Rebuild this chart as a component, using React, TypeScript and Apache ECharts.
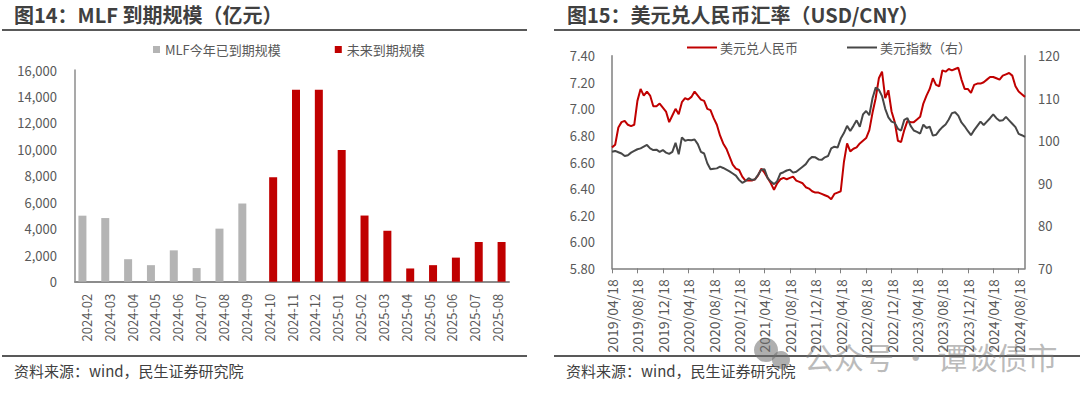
import React, { useEffect, useRef } from "react";
import * as echarts from "echarts";

// ---------- Chart 14: MLF maturities (亿元) ----------
const mlfMonths = [
  "2024-02", "2024-03", "2024-04", "2024-05", "2024-06", "2024-07", "2024-08", "2024-09",
  "2024-10", "2024-11", "2024-12", "2025-01", "2025-02", "2025-03", "2025-04", "2025-05",
  "2025-06", "2025-07", "2025-08",
];
const mlfMatured = [4990, 4810, 1700, 1250, 2370, 1030, 4010, 5910, null, null, null, null, null, null, null, null, null, null, null];
const mlfUpcoming = [null, null, null, null, null, null, null, null, 7890, 14500, 14500, 9950, 5000, 3850, 1000, 1250, 1820, 3000, 3000];
const mlfTicks = [0, 2000, 4000, 6000, 8000, 10000, 12000, 14000, 16000];

// ---------- Chart 15: USD/CNY and dollar index (semi-monthly samples) ----------
const fxStartYear = 2019;
const fxStartMonth = 4;
const usdCny = [
  6.71, 6.73, 6.86, 6.90, 6.91, 6.88, 6.87, 6.88, 7.06, 7.15,
  7.10, 7.13, 7.10, 7.02, 7.02, 7.04, 7.01, 6.98, 6.90, 6.95,
  7.00, 6.96, 7.05, 7.08, 7.07, 7.09, 7.13, 7.10, 7.07, 7.06,
  7.00, 6.99, 6.93, 6.88, 6.80, 6.74, 6.70, 6.64, 6.58, 6.55,
  6.54, 6.49, 6.46, 6.46, 6.46, 6.47, 6.50, 6.55, 6.52, 6.48,
  6.44, 6.39, 6.44, 6.47, 6.48, 6.47, 6.48, 6.49, 6.46, 6.45,
  6.44, 6.41, 6.40, 6.38, 6.37, 6.37, 6.36, 6.35, 6.34, 6.32,
  6.36, 6.37, 6.38, 6.60, 6.74, 6.68, 6.70, 6.71, 6.74, 6.76,
  6.78, 6.84, 6.97, 7.08, 7.23, 7.28, 7.08, 7.14, 6.98, 6.90,
  6.76, 6.75, 6.84, 6.91, 6.90, 6.90, 6.92, 6.94, 7.04, 7.10,
  7.15, 7.23, 7.18, 7.17, 7.29, 7.28, 7.30, 7.29, 7.30, 7.31,
  7.22, 7.15, 7.15, 7.12, 7.18, 7.19, 7.19, 7.20, 7.22, 7.24,
  7.24, 7.23, 7.22, 7.25, 7.26, 7.27, 7.25, 7.17, 7.13, 7.11,
  7.09,
];
const dollarIndex = [
  97.4, 97.6, 97.3, 97.0, 96.4, 96.6, 97.2, 97.6, 98.0, 98.2,
  98.6, 99.0, 98.2, 97.8, 97.9, 97.4, 97.8, 97.2, 96.9, 97.4,
  99.5, 96.8, 100.8, 100.0, 100.2, 100.1, 100.3, 99.2, 97.4, 97.0,
  94.7, 93.3, 93.4, 93.5, 93.9, 93.6, 93.2, 92.8, 92.3, 91.8,
  90.8, 90.1, 90.5, 91.2, 90.8, 90.9, 92.0, 93.2, 93.3, 91.2,
  90.4, 89.8, 90.5, 92.3, 92.6, 93.0, 93.2, 92.5, 92.7, 93.3,
  93.9, 94.5, 95.6, 96.2, 96.1, 95.6, 95.5, 96.1, 96.4, 98.2,
  98.6, 98.4, 100.5, 101.8, 103.5, 102.3, 103.5, 104.8, 103.3, 106.2,
  107.0, 106.0, 110.0, 112.5, 112.0, 110.5, 107.5, 105.5, 104.5, 104.2,
  102.8, 102.4, 104.9, 105.3, 103.5, 102.4, 102.1, 101.7, 103.8, 103.0,
  103.3, 101.2, 101.4, 102.4, 103.2, 103.8, 105.0, 106.5, 106.7, 105.9,
  104.3, 103.4, 102.3, 101.3, 102.5, 103.5, 104.5, 103.7, 104.5, 105.3,
  106.2, 105.3, 104.7, 104.8, 105.6, 104.8, 104.0, 103.2, 101.6, 101.3,
  100.9,
];

const pad2 = (n: number) => (n < 10 ? "0" + n : "" + n);
const fxDates: string[] = usdCny.map((_, k) => {
  const off = k % 2 === 0 ? k / 2 : (k + 1) / 2;
  const total = fxStartMonth - 1 + off;
  const y = fxStartYear + Math.floor(total / 12);
  const m = (total % 12) + 1;
  return `${y}/${pad2(m)}/${k % 2 === 0 ? "18" : "03"}`;
});

const FONT = '"Noto Sans CJK SC", "Noto Sans", sans-serif';
const LABEL = "#595959";

export default function App() {
  const ref = useRef<HTMLDivElement>(null);
  useEffect(() => {
    if (!ref.current) return;
    const chart = echarts.init(ref.current, undefined, { renderer: "svg" });
    const showEvery8 = (i: number) => i % 8 === 0;
    chart.setOption({
      animation: false,
      backgroundColor: "#ffffff",
      textStyle: { fontFamily: FONT },
      grid: [
        { left: 75, top: 70, width: 434, height: 211.7 },
        { left: 612, top: 55.7, width: 413, height: 212.6 },
      ],
      legend: [
        {
          left: 148, top: 38, itemWidth: 7, itemHeight: 7, itemGap: 54, icon: "rect",
          textStyle: { color: LABEL, fontSize: 13, fontFamily: FONT },
          data: ["MLF今年已到期规模", "未来到期规模"],
        },
        {
          left: 682, top: 36, itemWidth: 30, itemHeight: 2, itemGap: 49, icon: "rect",
          textStyle: { color: LABEL, fontSize: 13, fontFamily: FONT, padding: [0, 0, 0, -2] },
          data: ["美元兑人民币", "美元指数（右）"],
        },
      ],
      xAxis: [
        {
          type: "category", gridIndex: 0, data: mlfMonths,
          axisLine: { lineStyle: { color: "#8c8c8c", width: 2 } },
          axisTick: { show: false },
          axisLabel: { rotate: 90, interval: 0, margin: 12, color: LABEL, fontSize: 13, fontFamily: FONT },
        },
        {
          type: "category", gridIndex: 1, data: fxDates, boundaryGap: false,
          axisLine: { lineStyle: { color: "#7f7f7f", width: 1.5 } },
          axisTick: { show: true, interval: showEvery8, length: 5, lineStyle: { color: "#7f7f7f" } },
          axisLabel: { rotate: 90, interval: showEvery8, margin: 11, color: LABEL, fontSize: 14, fontFamily: FONT },
        },
      ],
      yAxis: [
        {
          type: "value", gridIndex: 0, min: mlfTicks[0], max: mlfTicks[mlfTicks.length - 1], interval: 2000,
          axisLine: { show: true, lineStyle: { color: "#8c8c8c", width: 1.5 } },
          axisTick: { show: false }, splitLine: { show: false },
          axisLabel: {
            margin: 18, color: LABEL, fontSize: 13, fontFamily: FONT,
            formatter: (v: number) => v.toLocaleString("en-US"),
          },
        },
        {
          type: "value", gridIndex: 1, position: "left", min: 5.8, max: 7.4, interval: 0.2,
          axisLine: { show: true, lineStyle: { color: "#7f7f7f", width: 1.5 } },
          axisTick: { show: false }, splitLine: { show: false },
          axisLabel: { margin: 17, color: LABEL, fontSize: 13, fontFamily: FONT, formatter: (v: number) => v.toFixed(2) },
        },
        {
          type: "value", gridIndex: 1, position: "right", min: 70, max: 120, interval: 10,
          axisLine: { show: true, lineStyle: { color: "#7f7f7f", width: 1.5 } },
          axisTick: { show: false }, splitLine: { show: false },
          axisLabel: { margin: 13, color: LABEL, fontSize: 13, fontFamily: FONT },
        },
      ],
      series: [
        {
          name: "MLF今年已到期规模", type: "bar", xAxisIndex: 0, yAxisIndex: 0,
          data: mlfMatured, barWidth: 8, barGap: "0%", itemStyle: { color: "#B4B4B4" },
        },
        {
          name: "未来到期规模", type: "bar", xAxisIndex: 0, yAxisIndex: 0,
          data: mlfUpcoming, barWidth: 8, barGap: "0%", itemStyle: { color: "#C00000" },
        },
        {
          name: "美元兑人民币", type: "line", xAxisIndex: 1, yAxisIndex: 1, data: usdCny,
          showSymbol: false, symbol: "none", lineStyle: { color: "#C00000", width: 2 }, itemStyle: { color: "#C00000" },
        },
        {
          name: "美元指数（右）", type: "line", xAxisIndex: 1, yAxisIndex: 2, data: dollarIndex,
          showSymbol: false, symbol: "none", lineStyle: { color: "#474747", width: 2 }, itemStyle: { color: "#474747" },
        },
      ],
      graphic: [
        { type: "text", left: 14, top: 4, style: { text: "图14：MLF 到期规模（亿元）", fill: "#404040", font: `bold 20px ${FONT}` } },
        { type: "line", shape: { x1: 2, y1: 30, x2: 527, y2: 30 }, style: { stroke: "#595959", lineWidth: 2 } },
        { type: "line", shape: { x1: 2, y1: 356, x2: 527, y2: 356 }, style: { stroke: "#595959", lineWidth: 2 } },
        { type: "text", left: 14, top: 363, style: { text: "资料来源：wind，民生证券研究院", fill: "#404040", font: `15px ${FONT}` } },
        { type: "text", left: 567, top: 4, style: { text: "图15：美元兑人民币汇率（USD/CNY）", fill: "#404040", font: `bold 20px ${FONT}` } },
        { type: "line", shape: { x1: 554, y1: 30, x2: 1080, y2: 30 }, style: { stroke: "#595959", lineWidth: 2 } },
        { type: "line", shape: { x1: 554, y1: 356, x2: 1080, y2: 356 }, style: { stroke: "#595959", lineWidth: 2 } },
        { type: "text", left: 566, top: 363, style: { text: "资料来源：wind，民生证券研究院", fill: "#404040", font: `15px ${FONT}` } },
        { type: "circle", z: 100, shape: { cx: 766, cy: 350, r: 12 }, style: { fill: "rgba(110,110,110,0.55)" } },
        { type: "circle", z: 100, shape: { cx: 781, cy: 360, r: 9 }, style: { fill: "rgba(110,110,110,0.55)" } },
        { type: "text", z: 100, left: 804, top: 341, style: { text: "公众号 · 谭谈债市", fill: "rgba(120,120,120,0.5)", font: `30px ${FONT}` } },
      ],
    });
    return () => chart.dispose();
  }, []);
  return <div ref={ref} style={{ position: "fixed", left: 0, top: 0, width: 1080, height: 397 }} />;
}
